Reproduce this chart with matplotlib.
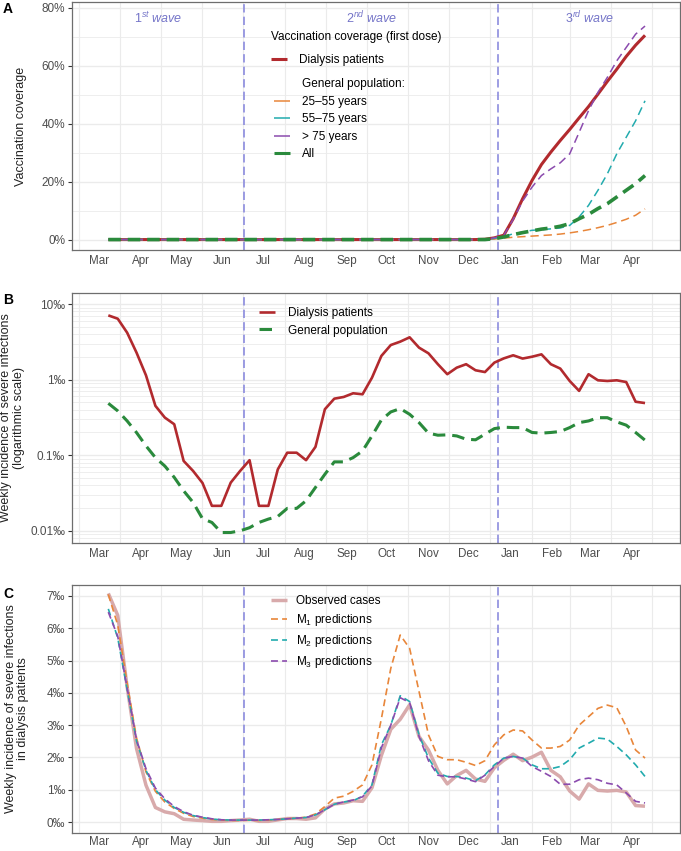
import matplotlib.pyplot as plt
import matplotlib.transforms as mtransforms
from matplotlib.lines import Line2D
from matplotlib.ticker import LogLocator, NullFormatter
import numpy as np
import pandas as pd

# Data (weekly, from 23 March 2020)
weeks = pd.date_range('2020-03-23', periods=58, freq='7D')
month_labels = ['Mar', 'Apr', 'May', 'Jun', 'Jul', 'Aug', 'Sep', 'Oct', 'Nov', 'Dec',
                'Jan', 'Feb', 'Mar', 'Apr']
wave_starts = pd.to_datetime(['2020-07-02', '2021-01-07'])
wave_names = ['1^{st}', '2^{nd}', '3^{rd}']

zeros = [0.0] * 40
vax_dialysis = zeros + [0.1, 0.6, 1.5, 7.2, 14.1, 20.4, 25.9, 30.2, 34.2, 38.0, 42.0, 45.9,
                        50.2, 54.6, 58.8, 63.2, 67.1, 70.5]
vax_25_55 = zeros + [0.0, 0.2, 0.5, 0.8, 1.0, 1.2, 1.4, 1.6, 1.9, 2.3, 2.8, 3.4, 4.1, 4.9,
                     5.9, 7.0, 8.4, 10.6]
vax_55_75 = zeros + [0.0, 0.4, 1.0, 2.0, 2.6, 3.2, 3.4, 3.7, 4.0, 4.9, 7.8, 11.8, 17.0,
                     22.7, 29.6, 35.3, 41.0, 47.9]
vax_75 = zeros + [0.1, 0.6, 1.5, 7.0, 13.3, 18.1, 22.1, 24.4, 26.5, 29.6, 37.0, 44.5, 50.8,
                  56.0, 61.7, 66.3, 70.9, 73.7]
vax_all = zeros + [0.0, 0.3, 0.9, 1.7, 2.4, 3.0, 3.6, 4.0, 4.6, 5.5, 7.2, 8.7, 10.7, 12.4,
                   14.7, 17.0, 19.3, 22.1]

# weekly incidence of severe infections (per mille)
inc_dialysis = [7.08, 6.4, 4.18, 2.27, 1.14, 0.45, 0.315, 0.257, 0.084, 0.062,
                0.043, 0.0214, 0.0214, 0.0434, 0.062, 0.086, 0.0214, 0.0214, 0.065, 0.108,
                0.108, 0.086, 0.129, 0.406, 0.56, 0.59, 0.66, 0.64, 1.06, 2.06,
                2.87, 3.18, 3.63, 2.65, 2.23, 1.6, 1.18, 1.44, 1.6, 1.33,
                1.26, 1.68, 1.91, 2.1, 1.9, 2.01, 2.16, 1.6, 1.4, 0.96,
                0.71, 1.18, 0.98, 0.96, 0.98, 0.93, 0.51, 0.49]
inc_general = [0.486, 0.386, 0.284, 0.199, 0.133, 0.093, 0.072, 0.051, 0.0338, 0.0238,
               0.0145, 0.0129, 0.0095, 0.0095, 0.010, 0.011, 0.0129, 0.0143, 0.0155, 0.0198,
               0.0198, 0.025, 0.0375, 0.056, 0.0817, 0.0817, 0.093, 0.114, 0.18, 0.293,
               0.374, 0.414, 0.348, 0.27, 0.196, 0.184, 0.186, 0.18, 0.163, 0.16,
               0.19, 0.225, 0.235, 0.232, 0.232, 0.2, 0.196, 0.2, 0.206, 0.232,
               0.27, 0.284, 0.314, 0.314, 0.276, 0.25, 0.2, 0.158]

pred_m1 = [7.05, 6.1, 4.3, 2.6, 1.55, 0.95, 0.62, 0.42, 0.27, 0.17,
           0.12, 0.08, 0.06, 0.05, 0.05, 0.05, 0.05, 0.06, 0.08, 0.1,
           0.12, 0.15, 0.25, 0.48, 0.74, 0.8, 0.95, 1.15, 1.77, 3.2,
           4.76, 5.79, 5.38, 4.04, 2.7, 2.03, 1.93, 1.93, 1.85, 1.75,
           1.9, 2.39, 2.7, 2.85, 2.82, 2.54, 2.29, 2.29, 2.34, 2.54,
           3.0, 3.26, 3.52, 3.62, 3.54, 2.96, 2.23, 1.98]
pred_m2 = [6.6, 5.7, 4.1, 2.5, 1.6, 1.0, 0.68, 0.45, 0.3, 0.2,
           0.14, 0.09, 0.07, 0.06, 0.06, 0.06, 0.06, 0.07, 0.08, 0.1,
           0.12, 0.14, 0.22, 0.38, 0.55, 0.62, 0.66, 0.8, 1.15, 2.39,
           3.0, 3.91, 3.73, 2.7, 1.98, 1.51, 1.41, 1.41, 1.36, 1.28,
           1.46, 1.77, 1.98, 2.03, 1.98, 1.77, 1.65, 1.65, 1.72, 1.93,
           2.29, 2.44, 2.6, 2.57, 2.34, 2.08, 1.77, 1.41]
pred_m3 = [6.5, 5.75, 4.15, 2.55, 1.65, 1.05, 0.72, 0.48, 0.32, 0.21,
           0.15, 0.1, 0.07, 0.06, 0.06, 0.06, 0.06, 0.07, 0.08, 0.1,
           0.12, 0.14, 0.22, 0.38, 0.55, 0.62, 0.68, 0.78, 1.12, 2.3,
           3.0, 3.85, 3.7, 2.65, 1.9, 1.45, 1.4, 1.4, 1.33, 1.25,
           1.45, 1.72, 1.98, 2.03, 1.98, 1.72, 1.57, 1.41, 1.17, 1.17,
           1.31, 1.36, 1.31, 1.2, 1.15, 0.9, 0.64, 0.59]

# Style
plt.rcParams['font.family'] = ['Liberation Sans', 'DejaVu Sans']
plt.rcParams['mathtext.fontset'] = 'custom'
plt.rcParams['mathtext.rm'] = 'Liberation Sans'
plt.rcParams['mathtext.it'] = 'Liberation Sans:italic'
plt.rcParams['lines.scale_dashes'] = False
plt.rcParams['lines.solid_capstyle'] = 'butt'
plt.rcParams['lines.dash_capstyle'] = 'butt'

RED = '#B22A2E'
GREEN = '#2A8A3C'
ORANGE = '#E8863A'
TEAL = '#22ABAE'
PURPLE = '#8B4BAE'
PINK = '#D8AAAB'
WAVE = '#8C8CDE'
GRID = '#EBEBEB'
TXT = '#4D4D4D'

xmin, xmax = pd.Timestamp('2020-02-25'), pd.Timestamp('2021-05-22')
month_starts = pd.date_range('2020-03-01', '2021-05-01', freq='MS')
month_mids = month_starts[:-1] + pd.Timedelta(days=15)

W, H = 681, 851
fig = plt.figure(figsize=(W / 100, H / 100), dpi=100)


def make_axes(top, bottom, left=72, right=680):
    return fig.add_axes([left / W, 1 - bottom / H, (right - left) / W, (bottom - top) / H])


def style_axis(ax, xpad=3.5):
    ax.set_xlim(xmin, xmax)
    ax.set_xticks(month_starts, minor=True)
    ax.set_xticks(month_mids)
    ax.set_xticklabels(month_labels)
    ax.tick_params(axis='x', which='both', length=0, pad=xpad, labelsize=8.4, labelcolor=TXT)
    ax.tick_params(axis='y', which='major', length=3, width=0.8, color='#333333',
                   pad=2, labelsize=8.5, labelcolor=TXT)
    ax.tick_params(axis='y', which='minor', length=0)
    ax.grid(axis='x', which='minor', color=GRID, lw=0.8)
    ax.grid(axis='y', which='major', color=GRID, lw=1.0)
    ax.grid(axis='y', which='minor', color=GRID, lw=0.6)
    ax.set_axisbelow(True)
    for sp in ax.spines.values():
        sp.set_color('#6E6E6E')
        sp.set_linewidth(0.9)
    for ws in wave_starts:
        ax.axvline(ws, color=WAVE, lw=1.2, dashes=(6, 3), zorder=1.5)


# Panel A: vaccination coverage
axA = make_axes(2, 250)
style_axis(axA)
axA.plot(weeks, vax_dialysis, color=RED, lw=2.2, zorder=3)
axA.plot(weeks, vax_25_55, color=ORANGE, lw=1.1, dashes=(6, 3.5), zorder=3)
axA.plot(weeks, vax_55_75, color=TEAL, lw=1.1, dashes=(6, 3.5), zorder=3)
axA.plot(weeks, vax_75, color=PURPLE, lw=1.1, dashes=(6, 3.5), zorder=3)
axA.plot(weeks, vax_all, color=GREEN, lw=2.6, dashes=(9, 5), zorder=3)
axA.set_ylim(-3.6, 82)
axA.set_yticks([0, 20, 40, 60, 80])
axA.set_yticklabels(['0%', '20%', '40%', '60%', '80%'])
axA.set_yticks([10, 30, 50, 70], minor=True)
axA.set_ylabel('Vaccination coverage', fontsize=9, color='#222222')
axA.yaxis.set_label_coords(-0.074, 0.5)

bounds = [xmin] + list(wave_starts) + [xmax]
trans = mtransforms.blended_transform_factory(axA.transData, axA.transAxes)
for k, name in enumerate(wave_names):
    mid = bounds[k] + (bounds[k + 1] - bounds[k]) / 2
    axA.text(mid, 0.935, r'$\mathit{' + name + '}$ wave', transform=trans, ha='center',
             va='center', fontsize=9, style='italic', color='#7474C8')

leg1 = axA.legend([Line2D([], [], color=RED, lw=2.2)], ['Dialysis patients'],
                  title='Vaccination coverage (first dose)', loc='upper left',
                  bbox_to_anchor=(0.328, 0.882), frameon=False, fontsize=8.5,
                  title_fontsize=8.5, handlelength=1.3, handletextpad=1.0, borderpad=0,
                  borderaxespad=0, labelspacing=0.92, alignment='left')
axA.add_artist(leg1)
hA = [Line2D([], [], color='none'),
      Line2D([], [], color=ORANGE, lw=1.1),
      Line2D([], [], color=TEAL, lw=1.1),
      Line2D([], [], color=PURPLE, lw=1.1),
      Line2D([], [], color=GREEN, lw=2.2)]
lA = ['General population:', '25\u201355 years', '55\u201375 years', '> 75 years', 'All']
axA.legend(hA, lA, loc='upper left', bbox_to_anchor=(0.333, 0.692), frameon=False,
           fontsize=8.5, handlelength=1.3, handletextpad=1.0, borderpad=0,
           borderaxespad=0, labelspacing=0.46)

# Panel B: weekly incidence (log scale)
axB = make_axes(293, 543)
style_axis(axB)
axB.set_yscale('log')
axB.plot(weeks, inc_dialysis, color=RED, lw=1.9, zorder=3, label='Dialysis patients')
axB.plot(weeks, inc_general, color=GREEN, lw=2.2, dashes=(9, 5), zorder=3,
         label='General population')
axB.set_ylim(0.0069, 14)
axB.set_yticks([0.01, 0.1, 1, 10])
axB.set_yticklabels(['0.01\u2030', '0.1\u2030', '1\u2030', '10\u2030'])
axB.yaxis.set_minor_locator(LogLocator(base=10, subs=np.arange(2, 10)))
axB.yaxis.set_minor_formatter(NullFormatter())
axB.set_ylabel('Weekly incidence of severe infections\n(logarithmic scale)', fontsize=9,
               color='#222222', linespacing=1.1)
axB.yaxis.set_label_coords(-0.078, 0.5)
axB.legend(loc='upper left', bbox_to_anchor=(0.308, 0.943), frameon=False, fontsize=8.5,
           handlelength=1.3, handletextpad=1.1, borderpad=0, borderaxespad=0,
           labelspacing=0.45)

# Panel C: observed vs predicted
axC = make_axes(585, 833)
style_axis(axC, xpad=2.5)
axC.plot(weeks, inc_dialysis, color=PINK, lw=2.5, zorder=3, label='Observed cases')
axC.plot(weeks, pred_m1, color=ORANGE, lw=1.2, dashes=(5, 3), zorder=3,
         label=r'$\mathregular{M_1}$ predictions')
axC.plot(weeks, pred_m2, color=TEAL, lw=1.2, dashes=(5, 3), zorder=3,
         label=r'$\mathregular{M_2}$ predictions')
axC.plot(weeks, pred_m3, color=PURPLE, lw=1.2, dashes=(5, 3), zorder=3,
         label=r'$\mathregular{M_3}$ predictions')
axC.set_ylim(-0.34, 7.34)
axC.set_yticks(range(0, 8))
axC.set_yticklabels([f'{v}\u2030' for v in range(0, 8)])
axC.set_ylabel('Weekly incidence of severe infections\nin dialysis patients', fontsize=9,
               color='#222222', linespacing=1.1)
axC.yaxis.set_label_coords(-0.07, 0.5)
axC.legend(loc='upper left', bbox_to_anchor=(0.328, 0.958), frameon=False, fontsize=8.5,
           handlelength=1.3, handletextpad=0.8, borderpad=0, borderaxespad=0,
           labelspacing=0.42)

# Panel letters
for letter, y in [('A', 9), ('B', 300), ('C', 594)]:
    fig.text(3 / W, 1 - y / H, letter, fontsize=10, fontweight='bold', va='center',
             ha='left')

fig.savefig('out.png', dpi=100)
